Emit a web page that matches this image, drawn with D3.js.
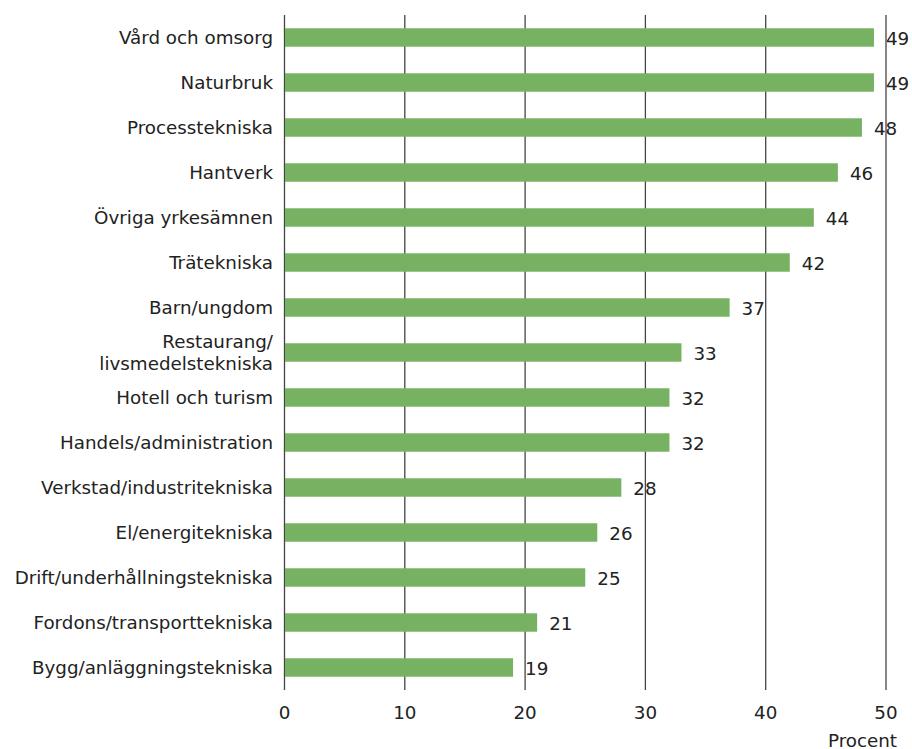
<!DOCTYPE html>
<html><head><meta charset="utf-8">
<script src="https://cdn.jsdelivr.net/npm/d3@7"></script>
<style>body{margin:0;background:#fff}svg{display:block}</style>
</head><body>
<script>
const categories = ["Vård och omsorg","Naturbruk","Processtekniska","Hantverk","Övriga yrkesämnen","Trätekniska","Barn/ungdom","Restaurang/\nlivsmedelstekniska","Hotell och turism","Handels/administration","Verkstad/industritekniska","El/energitekniska","Drift/underhållningstekniska","Fordons/transporttekniska","Bygg/anläggningstekniska"];
const values = [49,49,48,46,44,42,37,33,32,32,28,26,25,21,19];
const ticks = [0,10,20,30,40,50];
const axisTitle = "Procent";

const W = 912, H = 749;
const svg = d3.select("body").append("svg").attr("width",W).attr("height",H);
const font = "'DejaVu Sans', sans-serif";
const fs = 18.3;
const x = d3.scaleLinear().domain([0,50]).range([284.5,886]);
const y = d3.scaleBand().domain(categories).range([15,690]).paddingInner(0.59).paddingOuter(0.295);

svg.append("g").selectAll("line").data(ticks).join("line")
  .attr("x1",d=>x(d)).attr("x2",d=>x(d)).attr("y1",15).attr("y2",690)
  .attr("stroke","#444").attr("stroke-width",1.3);

svg.append("g").selectAll("rect").data(values).join("rect")
  .attr("x",x(0)+0.5).attr("y",(d,i)=>y(categories[i]))
  .attr("width",d=>x(d)-x(0)-0.5).attr("height",y.bandwidth())
  .attr("fill","#77b263");

svg.append("g").selectAll("text").data(values).join("text")
  .attr("x",d=>x(d)+12).attr("y",(d,i)=>y(categories[i])+y.bandwidth()/2)
  .attr("dy","0.4em").attr("font-family",font).attr("font-size",fs).attr("fill","#222")
  .text(d=>d);

const cl = svg.append("g").selectAll("text").data(categories).join("text")
  .attr("x",273).attr("y",d=>y(d)+y.bandwidth()/2)
  .attr("text-anchor","end").attr("font-family",font).attr("font-size",fs).attr("fill","#222");
cl.each(function(d){
  const lines = d.split("\n");
  const t = d3.select(this);
  lines.forEach((ln,k)=>{
    t.append("tspan").attr("x",273)
     .attr("dy", k===0 ? (0.36 - (lines.length-1)*0.6)+"em" : "1.2em")
     .text(ln);
  });
});

svg.append("g").selectAll("text").data(ticks).join("text")
  .attr("x",d=>x(d)).attr("y",712).attr("dy","0.36em").attr("text-anchor","middle")
  .attr("font-family",font).attr("font-size",fs).attr("fill","#222").text(d=>d);

svg.append("text").attr("x",897).attr("y",740).attr("dy","0.36em").attr("text-anchor","end")
  .attr("font-family",font).attr("font-size",fs).attr("fill","#222").text(axisTitle);
</script>
</body></html>
